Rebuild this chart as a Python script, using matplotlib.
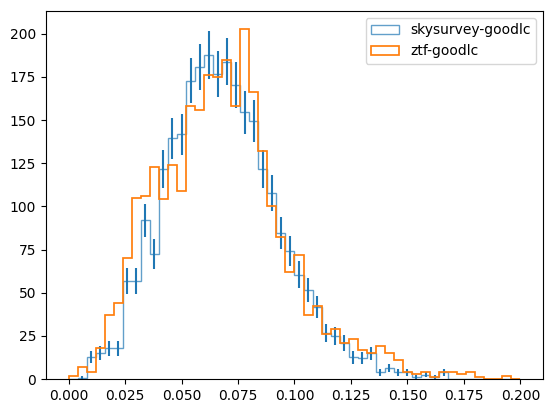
import numpy as np
import matplotlib
matplotlib.use("Agg")
import matplotlib.pyplot as plt

# 50 bins between 0 and 0.2
bin_edges = np.linspace(0, 0.2, 51)

skysurvey = [0, 0.8, 12.7, 15.0, 17.8, 17.8, 57.0, 57.0, 92.0, 72.5,
             121.7, 139.5, 141.7, 172.8, 180.8, 187.7, 176.8, 183.8, 170.3, 154.5,
             149.6, 121.5, 107.6, 84.7, 74.0, 60.5, 51.5, 41.8, 26.8, 24.9,
             20.7, 12.5, 12.0, 14.9, 3.8, 6.4, 3.8, 3.8, 1.3, 2.5,
             1.3, 3.8, 0, 0, 0, 0, 0, 0, 0, 0]

ztf = [2, 7, 4, 18, 37, 44, 70, 105, 106, 123,
       104, 124, 109, 158, 156, 176, 175, 185, 158, 203,
       166, 132, 100, 82, 62, 72, 37, 42, 26, 29,
       21, 23, 17, 15, 19, 15, 11, 4, 3, 4,
       1, 4, 4, 3, 4, 1, 0, 0, 2, 0]

centers = 0.5 * (bin_edges[1:] + bin_edges[:-1])
sky = np.array(skysurvey)

fig = plt.figure(figsize=(5.52, 4.13), dpi=100)
ax = fig.add_subplot(111)
fig.subplots_adjust(left=0.0833, right=0.9837, bottom=0.0823, top=0.9734)

ax.hist(centers, bins=bin_edges, weights=sky, histtype="step",
        color="C0", lw=1, alpha=0.7, label="skysurvey-goodlc")
ax.errorbar(centers, sky, yerr=np.sqrt(sky), fmt="none", ecolor="C0", elinewidth=1.5)
ax.hist(centers, bins=bin_edges, weights=ztf, histtype="step",
        color="C1", lw=1.25, label="ztf-goodlc")

ax.set_ylim(bottom=0)
ax.legend(loc="upper right")
fig.savefig("out.png")
